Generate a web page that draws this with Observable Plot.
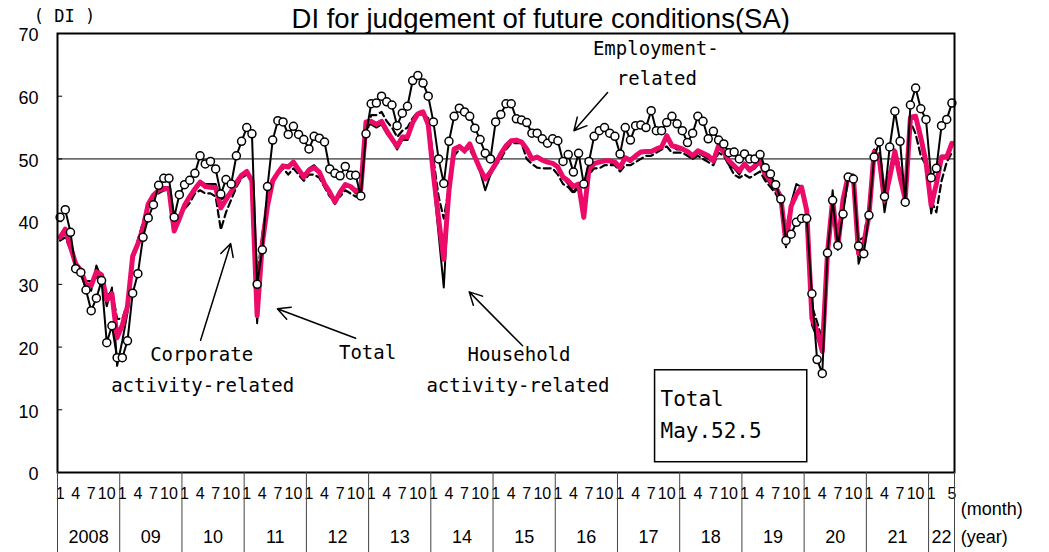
<!DOCTYPE html>
<html><head><meta charset="utf-8">
<script src="https://cdn.jsdelivr.net/npm/d3@7"></script>
<script src="https://cdn.jsdelivr.net/npm/@observablehq/plot@0.6"></script>
<style>body{margin:0;background:#fff;}</style>
</head><body><div id="chart"></div>
<script>
// Monthly values, Jan 2008 .. May 2022
const total = [
 37.5,38.8,36.0,33.3,32.2,30.0,29.8,32.0,31.5,27.5,28.5,21.5,
 23.5,26.5,34.5,36.5,39.0,42.8,44.2,45.0,45.3,45.2,38.5,40.5,
 42.6,44.0,45.2,46.3,45.6,45.5,45.4,42.2,43.5,44.8,46.2,47.4,
 48.0,46.5,25.0,36.5,42.5,46.5,47.8,48.9,48.7,49.5,48.3,47.1,
 48.2,48.6,47.9,46.0,44.7,43.1,44.7,45.9,45.6,44.9,45.2,55.9,
 56.0,55.5,56.0,54.5,53.2,52.0,53.5,53.5,55.8,57.2,57.5,55.5,
 47.5,40.5,34.0,45.0,51.6,52.0,51.3,52.4,50.3,48.4,46.8,47.9,
 49.2,50.8,52.1,52.9,53.0,52.7,51.6,50.0,50.3,49.8,49.5,49.3,
 48.7,47.1,46.5,45.6,46.0,40.7,48.4,49.3,49.5,49.7,49.7,49.5,
 48.6,50.2,49.8,50.5,51.1,51.2,51.2,51.6,51.9,53.7,52.1,51.9,
 51.6,51.2,50.5,51.3,50.9,50.5,49.7,52.1,51.1,49.7,48.9,48.1,
 49.2,48.2,48.9,49.7,47.6,46.5,45.5,43.9,36.5,42.5,44.3,45.5,
 41.8,24.6,22.5,19.3,35.0,43.5,36.0,43.5,47.3,47.1,34.9,36.5,
 41.0,51.1,50.0,43.4,47.1,51.2,47.1,43.6,56.6,56.8,53.4,49.5,
 42.6,46.0,50.3,50.3,52.5
];
const household = [
 37.0,38.5,35.5,33.0,31.5,29.5,29.0,33.0,31.0,26.5,29.5,17.0,
 21.0,25.5,34.0,36.0,38.5,42.5,44.0,45.0,45.5,45.5,38.5,40.0,
 42.5,44.0,45.5,46.5,46.0,46.0,46.0,43.5,44.0,45.0,46.5,47.5,
 48.0,46.0,23.8,35.5,42.5,46.5,48.0,49.0,49.0,49.5,48.5,47.5,
 48.5,49.0,48.0,46.0,44.5,42.8,44.5,46.0,45.5,44.5,45.0,55.5,
 55.5,55.0,55.5,54.0,53.0,51.5,53.0,53.0,55.5,57.0,57.5,55.0,
 46.5,38.0,29.5,45.0,51.5,52.0,51.0,52.5,50.0,48.0,45.0,47.5,
 49.0,50.5,52.0,53.0,53.0,52.5,51.5,50.0,50.5,50.0,49.5,49.5,
 48.5,47.0,46.0,44.7,46.0,40.5,48.0,49.0,49.5,49.5,49.5,49.0,
 48.5,50.0,49.5,50.5,51.0,51.0,51.0,51.5,52.0,53.5,52.0,51.5,
 51.5,51.0,50.0,51.0,50.5,50.0,49.5,52.0,51.0,49.0,48.5,47.5,
 49.0,48.0,48.5,49.5,47.0,46.0,45.0,43.5,35.9,43.0,46.0,45.5,
 41.5,23.5,21.5,19.5,35.5,45.0,35.5,44.0,47.5,47.5,33.3,36.0,
 40.5,51.0,49.5,41.5,46.5,51.0,46.5,43.5,56.5,56.5,53.0,49.0,
 41.3,45.5,50.5,50.5,52.5
];
const corporate = [
 37.0,37.5,35.5,33.5,32.5,30.5,30.5,31.0,32.0,28.0,29.0,24.5,
 24.5,27.0,34.0,37.0,40.0,42.5,44.0,44.5,45.0,45.0,39.5,41.0,
 42.0,43.0,44.5,45.0,44.5,44.5,44.0,38.7,41.5,43.5,45.5,47.0,
 47.5,47.0,31.0,38.0,43.0,46.5,47.5,48.5,47.5,48.5,47.5,46.5,
 47.5,47.5,47.0,45.5,44.0,43.5,44.0,45.0,44.5,44.0,44.0,53.5,
 57.0,57.0,57.5,56.0,55.0,53.5,54.5,55.0,56.5,57.5,57.5,56.5,
 50.0,44.0,40.5,45.5,50.5,51.5,51.5,51.5,50.0,48.5,47.0,47.5,
 49.0,50.0,51.5,52.5,52.5,52.5,50.0,49.2,48.6,48.5,48.5,48.5,
 47.5,46.0,45.5,44.5,45.5,43.0,47.5,48.5,48.5,49.0,49.0,49.0,
 48.0,49.0,49.0,49.5,50.0,50.5,50.5,51.0,51.5,52.0,51.0,51.0,
 51.0,50.5,50.0,50.5,50.0,49.5,49.0,51.0,50.5,49.0,47.5,47.0,
 47.5,47.0,47.5,48.0,46.5,45.5,44.5,43.0,39.0,42.5,44.5,45.0,
 42.0,26.5,24.0,21.0,34.0,41.5,37.0,42.0,46.5,46.5,37.0,37.5,
 42.5,51.5,51.0,45.0,48.0,51.5,48.5,44.0,56.0,54.0,50.5,49.0,
 43.5,41.5,46.5,49.5,51.0
];
const employment = [
 40.7,41.9,38.3,32.5,31.9,29.1,25.8,27.8,30.6,20.7,23.4,18.3,
 18.3,21.0,28.6,31.7,37.5,40.6,42.7,45.8,46.9,46.9,40.7,44.3,
 45.9,46.6,47.7,50.5,49.2,49.6,48.4,44.4,46.7,46.0,50.5,52.8,
 55.0,54.0,30.0,35.5,45.6,53.0,56.1,55.9,53.9,55.2,53.9,53.1,
 51.6,53.6,53.3,52.7,48.4,47.7,47.3,48.8,47.4,47.4,44.1,54.0,
 58.8,58.9,60.0,59.1,58.6,55.3,57.3,58.4,62.5,63.3,62.1,60.0,
 55.9,50.0,46.1,52.8,56.8,58.1,57.5,56.8,54.9,53.1,50.9,50.0,
 55.9,57.1,58.8,58.8,56.4,56.2,55.8,54.1,54.1,53.2,52.5,53.2,
 52.9,49.6,50.7,47.9,50.9,46.0,49.6,53.6,54.5,55.0,54.1,53.6,
 50.8,55.0,53.0,55.3,55.4,55.0,57.7,54.5,54.5,55.8,56.8,55.6,
 54.5,52.6,54.1,56.8,56.0,53.2,54.4,53.0,52.4,51.0,51.1,50.0,
 50.8,50.0,50.0,50.7,48.6,47.6,45.9,43.6,37.0,38.0,39.9,40.5,
 40.5,28.5,18.0,15.8,35.0,43.4,36.2,41.2,47.1,46.8,36.1,34.9,
 41.0,50.3,52.7,44.0,51.9,57.6,52.8,43.1,58.6,61.3,58.0,56.3,
 47.0,48.5,55.3,56.3,58.9
];
const yearLabels = ["2008","09","10","11","12","13","14","15","16","17","18","19","20","21","22"];
const monthsPerYear = [12,12,12,12,12,12,12,12,12,12,12,12,12,12,5];
const monthTickLabels = ["1","4","7","10"];
const lastYearMonthLabels = ["1","5"];
const yTicks = [0,10,20,30,40,50,60,70];

const rows = total.map((v, i) => ({i, total: v, household: household[i], corporate: corporate[i], employment: employment[i]}));

let start = 0;
const yearRows = [], monthRows = [], seps = [0];
yearLabels.forEach((lab, k) => {
  const n = monthsPerYear[k];
  yearRows.push({x: start + n / 2, text: lab});
  const labs = k === yearLabels.length - 1 ? lastYearMonthLabels : monthTickLabels;
  labs.forEach(m => monthRows.push({x: start + (+m) - 0.5, text: m}));
  start += n;
  seps.push(start);
});

const X = d => d.i + 0.5;
const PINK = "#EC0B69";
const mono = "'DejaVu Sans Mono', monospace";
const ann = {fontSize: 19, fontFamily: mono};

const chart = Plot.plot({
  width: 1049, height: 552,
  marginLeft: 57, marginRight: 95, marginTop: 33, marginBottom: 80,
  x: {domain: [0, 173], axis: null},
  y: {domain: [0, 70], axis: null},
  style: {fontFamily: "'Liberation Sans', Arial, sans-serif", background: "white", color: "black"},
  marks: [
    Plot.ruleY([50], {stroke: "black", strokeWidth: 1}),
    Plot.ruleY(yTicks, {x1: 0, x2: 1, stroke: "black", strokeWidth: 1}),
    Plot.line(rows, {x: X, y: "household", stroke: "black", strokeWidth: 2}),
    Plot.line(rows, {x: X, y: "corporate", stroke: "black", strokeWidth: 2.2, strokeDasharray: "7,4"}),
    Plot.line(rows, {x: X, y: "total", stroke: PINK, strokeWidth: 5, strokeLinejoin: "round"}),
    Plot.line(rows, {x: X, y: "employment", stroke: "black", strokeWidth: 2}),
    Plot.dot(rows, {x: X, y: "employment", r: 4, fill: "white", stroke: "black", strokeWidth: 1.5}),
    Plot.frame({stroke: "black", strokeWidth: 2}),
    Plot.text(yTicks, {x: 0, y: d => d, text: d => String(d), dx: -19, dy: 2, textAnchor: "end", fontSize: 18}),
    Plot.text(monthRows, {x: "x", y: 0, text: "text", dy: 21, fontSize: 16}),
    Plot.ruleX(seps, {x: d => d, y1: 0, y2: -12.8, stroke: "#444", strokeWidth: 1}),
    Plot.text(yearRows, {x: "x", y: 0, text: "text", dy: 65, fontSize: 18}),
    Plot.text(["(month)"], {x: 174.2, y: 0, text: d => d, dy: 37, textAnchor: "start", fontSize: 18}),
    Plot.text(["(year)"], {x: 174.2, y: 0, text: d => d, dy: 65, textAnchor: "start", fontSize: 18}),
    Plot.text(["DI for judgement of future conditions(SA)"], {x: 93.2, y: 70, text: d => d, dy: -6, lineAnchor: "bottom", fontSize: 27.5}),
    Plot.text(["( DI )"], {x: 0, y: 70, text: d => d, dx: 7, dy: -17, textAnchor: "middle", fontSize: 17, fontFamily: mono}),
    Plot.text(["Employment-"], {x: 115.4, y: 67.6, text: d => d, ...ann}),
    Plot.text(["related"], {x: 115.6, y: 62.8, text: d => d, ...ann}),
    Plot.arrow([0], {x1: 106.1, y1: 60.6, x2: 99.6, y2: 54.5, stroke: "black", strokeWidth: 1.5, headLength: 14, headAngle: 55}),
    Plot.text(["Corporate"], {x: 27.8, y: 18.8, text: d => d, ...ann}),
    Plot.text(["activity-related"], {x: 28.0, y: 13.8, text: d => d, ...ann}),
    Plot.arrow([0], {x1: 27.6, y1: 21.1, x2: 33.4, y2: 36.5, stroke: "black", strokeWidth: 1.5, headLength: 14, headAngle: 55}),
    Plot.text(["Total"], {x: 59.8, y: 19.1, text: d => d, ...ann}),
    Plot.arrow([0], {x1: 57.5, y1: 21.4, x2: 42.4, y2: 26.1, stroke: "black", strokeWidth: 1.5, headLength: 14, headAngle: 55}),
    Plot.text(["Household"], {x: 89.0, y: 18.7, text: d => d, ...ann}),
    Plot.text(["activity-related"], {x: 88.8, y: 13.8, text: d => d, ...ann}),
    Plot.arrow([0], {x1: 89.7, y1: 20.2, x2: 79.4, y2: 28.8, stroke: "black", strokeWidth: 1.5, headLength: 14, headAngle: 55}),
    Plot.rect([0], {x1: 115.25, x2: 144.6, y1: 1.64, y2: 16.3, fill: "white", stroke: "black", strokeWidth: 1.5}),
    Plot.text(["Total"], {x: 116.3, y: 11.6, text: d => d, textAnchor: "start", fontSize: 21, fontFamily: mono}),
    Plot.text(["May.52.5"], {x: 116.3, y: 6.5, text: d => d, textAnchor: "start", fontSize: 21, fontFamily: mono})
  ]
});
document.getElementById("chart").appendChild(chart);
</script>
</body></html>
